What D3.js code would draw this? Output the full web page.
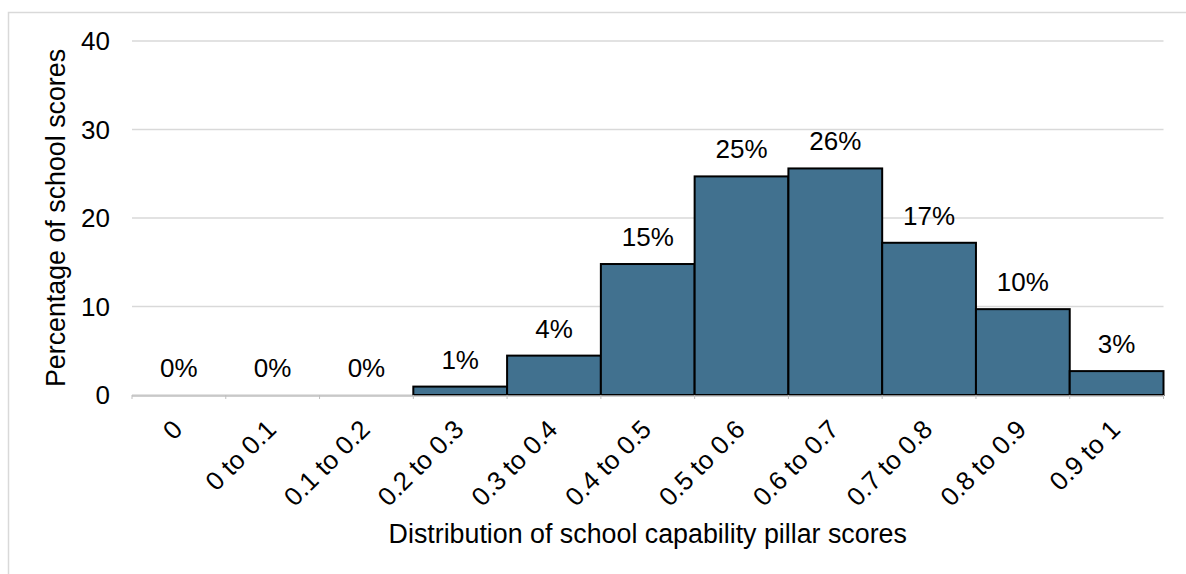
<!DOCTYPE html>
<html>
<head>
<meta charset="utf-8">
<script src="https://cdn.jsdelivr.net/npm/d3@7/dist/d3.min.js"></script>
<style>
  html, body { margin: 0; padding: 0; background: #fff; }
  svg { display: block; }
  text { font-family: "Liberation Sans", Arial, sans-serif; fill: #000; }
</style>
</head>
<body>
<svg id="chart" width="1186" height="574"></svg>
<script>
const categories = ["0", "0 to 0.1", "0.1 to 0.2", "0.2 to 0.3", "0.3 to 0.4", "0.4 to 0.5",
                    "0.5 to 0.6", "0.6 to 0.7", "0.7 to 0.8", "0.8 to 0.9", "0.9 to 1"];
const values = [0, 0, 0, 0.95, 4.45, 14.8, 24.7, 25.6, 17.2, 9.7, 2.7];
const dataLabels = ["0%", "0%", "0%", "1%", "4%", "15%", "25%", "26%", "17%", "10%", "3%"];
const yTicks = [0, 10, 20, 30, 40];
const xTitle = "Distribution of school capability pillar scores";
const yTitle = "Percentage of school scores";

const svg = d3.select("#chart");
const fs = 26;
const fsTitle = 26.8;

// outer frame
svg.append("rect")
  .attr("x", 8.5).attr("y", 12.5)
  .attr("width", 1250).attr("height", 650)
  .attr("fill", "none").attr("stroke", "#d9d9d9").attr("stroke-width", 1.5);

const plotLeft = 132, plotRight = 1163.5, plotTop = 41, plotBottom = 395;

const x = d3.scaleBand().domain(categories).range([plotLeft, plotRight]).padding(0);
const y = d3.scaleLinear().domain([0, 40]).range([plotBottom, plotTop]);

// gridlines
svg.append("g").selectAll("line").data(yTicks).join("line")
  .attr("x1", plotLeft).attr("x2", plotRight)
  .attr("y1", d => y(d)).attr("y2", d => y(d))
  .attr("stroke", "#d9d9d9").attr("stroke-width", 1.5);

// y tick labels
svg.append("g").selectAll("text").data(yTicks).join("text")
  .attr("x", 110).attr("y", d => y(d))
  .attr("dy", "0.36em")
  .attr("text-anchor", "end")
  .style("font-size", fs + "px")
  .text(d => d);

// bars
svg.append("g").selectAll("rect").data(categories.map((c, i) => ({c, v: values[i]})).filter(d => d.v > 0))
  .join("rect")
  .attr("x", d => x(d.c))
  .attr("y", d => y(d.v))
  .attr("width", x.bandwidth())
  .attr("height", d => y(0) - y(d.v))
  .attr("fill", "#41718f")
  .attr("stroke", "#000")
  .attr("stroke-width", 2);

// x axis line and small ticks
svg.append("line")
  .attr("x1", plotLeft).attr("x2", plotRight)
  .attr("y1", plotBottom + 1).attr("y2", plotBottom + 1)
  .attr("stroke", "#bfbfbf").attr("stroke-width", 1.5);
svg.append("g").selectAll("line").data(d3.range(categories.length + 1)).join("line")
  .attr("x1", i => plotLeft + i * x.bandwidth()).attr("x2", i => plotLeft + i * x.bandwidth())
  .attr("y1", plotBottom).attr("y2", plotBottom + 4)
  .attr("stroke", "#bfbfbf").attr("stroke-width", 1);

// data labels
svg.append("g").selectAll("text").data(categories).join("text")
  .attr("x", d => x(d) + x.bandwidth() / 2)
  .attr("y", (d, i) => y(values[i]) - 18)
  .attr("text-anchor", "middle")
  .style("font-size", fs + "px")
  .text((d, i) => dataLabels[i]);

// x tick labels rotated
svg.append("g").selectAll("text").data(categories).join("text")
  .attr("transform", d => `translate(${x(d) + x.bandwidth() / 2 + 5},431) rotate(-45)`)
  .attr("text-anchor", "end")
  .style("font-size", fs + "px")
  .text(d => d);

// axis titles
svg.append("text")
  .attr("x", (plotLeft + plotRight) / 2).attr("y", 543)
  .attr("text-anchor", "middle")
  .style("font-size", fsTitle + "px")
  .text(xTitle);

svg.append("text")
  .attr("transform", `translate(65,${(plotTop + plotBottom) / 2}) rotate(-90)`)
  .attr("text-anchor", "middle")
  .style("font-size", fsTitle + "px")
  .text(yTitle);
</script>
</body>
</html>
